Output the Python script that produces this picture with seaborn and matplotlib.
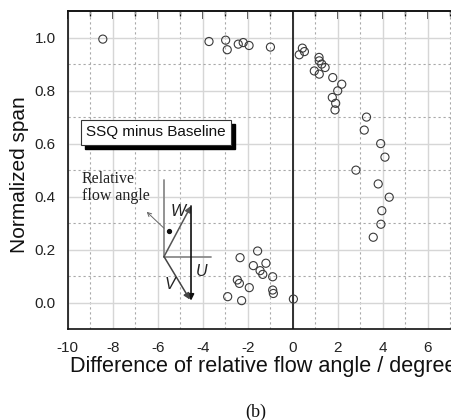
import matplotlib
matplotlib.use("Agg")
import matplotlib.pyplot as plt
import matplotlib.transforms as mtransforms
import numpy as np
import pandas as pd
import seaborn as sns

# ---- data ----
angle_diff = [-8.44, -3.72, -2.98, -2.91, -2.42, -2.20, -1.94, -0.99,
              0.43, 0.52, 0.29, 1.17, 1.18, 1.29, 1.44, 0.96, 1.18, 1.78,
              2.18, 2.00, 1.76, 1.91, 1.88, 3.28, 3.18, 3.91, 4.10, 2.81,
              3.80, 4.29, 3.96, 3.92, 3.58,
              -1.56, -2.34, -1.19, -1.75, -1.45, -1.33, -0.89, -2.46, -2.37,
              -1.93, -0.89, -0.86, -2.89, -2.27, 0.03]
span = [0.994, 0.985, 0.990, 0.954, 0.975, 0.981, 0.970, 0.964,
        0.960, 0.947, 0.935, 0.925, 0.912, 0.900, 0.887, 0.874, 0.862, 0.849,
        0.824, 0.799, 0.774, 0.752, 0.727, 0.700, 0.651, 0.600, 0.549, 0.500,
        0.448, 0.398, 0.347, 0.296, 0.247,
        0.195, 0.170, 0.149, 0.140, 0.121, 0.107, 0.098, 0.086, 0.073,
        0.057, 0.048, 0.035, 0.023, 0.008, 0.014]
x_major = [-10, -8, -6, -4, -2, 0, 2, 4, 6, 8]
x_minor = [-9, -7, -5, -3, -1, 1, 3, 5, 7]
y_major = [0.0, 0.2, 0.4, 0.6, 0.8, 1.0]
y_minor = [-0.1, 0.1, 0.3, 0.5, 0.7, 0.9]
x_label = "Difference of relative flow angle / degree"
y_label = "Normalized span"
box_label = "SSQ minus Baseline"
panel_label = "(b)"

df = pd.DataFrame({"angle": angle_diff, "span": span})

sns.set_style("white")
plt.rcParams["font.family"] = ["Liberation Sans", "DejaVu Sans"]

fig = plt.figure(figsize=(4.52, 4.20), dpi=100)
ax = fig.add_axes([0.1498, 0.216, 0.896, 0.7578])

ax.set_xlim(-10, 8)
ax.set_ylim(-0.1, 1.1)

ax.set_xticks(x_major)
ax.set_xticks(x_minor, minor=True)
ax.set_yticks(y_major)
ax.set_yticks(y_minor, minor=True)
ax.set_xticklabels([str(v) for v in x_major])
ax.set_yticklabels([f"{v:.1f}" for v in y_major])

ax.grid(True, which="major", color="#d6d6d6", linewidth=1.0, linestyle="-")
ax.grid(True, which="minor", color="#a8a8a8", linewidth=0.8, linestyle=(0, (2, 2.5)))
ax.set_axisbelow(True)

ax.axvline(0, color="#222222", linewidth=1.3, zorder=2)

sns.scatterplot(data=df, x="angle", y="span", ax=ax, s=34,
                facecolor="none", edgecolor="#3a3a3a", linewidth=0.8,
                zorder=3, legend=False)

for sp in ax.spines.values():
    sp.set_color("#111111")
    sp.set_linewidth(1.2)

ax.tick_params(axis="both", which="major", direction="out", length=5.5,
               width=1.1, color="#111111", labelsize=11, labelcolor="#222222",
               pad=3)
ax.tick_params(axis="both", which="minor", direction="out", length=3.5,
               width=1.0, color="#111111")
ax.tick_params(top=False, right=False)

sec = ax.secondary_xaxis("top")
sec.set_xticks(x_major)
sec.set_xticks(x_minor, minor=True)
sec.tick_params(which="major", direction="in", length=5.5, width=1.1,
                labeltop=False, color="#111111")
sec.tick_params(which="minor", direction="in", length=3.5, width=1.0,
                labeltop=False, color="#111111")
sec.spines["top"].set_linewidth(1.2)

ax.set_xlabel(x_label, fontsize=15.6, color="#111111", ha="left", va="center")
ax.xaxis.set_label_coords(0.006, -0.118)
ax.set_ylabel(y_label, fontsize=15, color="#111111", va="center")
ax.yaxis.set_label_coords(-0.118, 0.485)

# boxed label with drop shadow
shadow_tr = mtransforms.offset_copy(ax.transData, fig=fig, x=4, y=-4, units="dots")
ax.text(-6.08, 0.642, box_label, fontsize=11, color="black", ha="center",
        va="center", transform=shadow_tr, zorder=4,
        bbox=dict(boxstyle="square,pad=0.35", facecolor="black", edgecolor="black"))
ax.text(-6.08, 0.642, box_label, fontsize=11, color="#111111", ha="center",
        va="center", zorder=5,
        bbox=dict(boxstyle="square,pad=0.35", facecolor="white",
                  edgecolor="#333333", linewidth=0.8))

# velocity triangle sketch
ax.plot([-5.72, -5.72], [0.463, 0.174], color="#8a8a8a", linewidth=1.3, zorder=4)
ax.plot([-5.72, -3.63], [0.174, 0.174], color="#8a8a8a", linewidth=1.3, zorder=4)
arrow_kw = dict(arrowstyle="-|>", mutation_scale=9, shrinkA=0, shrinkB=0)
ax.annotate("", xy=(-4.52, 0.365), xytext=(-5.72, 0.174),
            arrowprops=dict(color="#555555", lw=1.1, **arrow_kw), zorder=5)
ax.annotate("", xy=(-4.52, 0.008), xytext=(-4.52, 0.365),
            arrowprops=dict(color="#111111", lw=1.2, **arrow_kw), zorder=5)
ax.annotate("", xy=(-4.57, 0.012), xytext=(-5.72, 0.174),
            arrowprops=dict(color="#444444", lw=1.1, **arrow_kw), zorder=5)
ax.annotate("", xy=(-6.49, 0.343), xytext=(-5.72, 0.281),
            arrowprops=dict(arrowstyle="->", color="#666666", lw=0.7,
                            mutation_scale=7, shrinkA=0, shrinkB=0), zorder=5)
ax.plot([-5.50], [0.271], marker="o", markersize=2.8, color="#111111", zorder=5)
ax.text(-5.08, 0.343, "W", fontsize=11.5, style="italic", ha="center",
        va="center", color="#222222", zorder=6)
ax.text(-4.04, 0.117, "U", fontsize=11.5, style="italic", ha="center",
        va="center", color="#222222", zorder=6)
ax.text(-5.45, 0.067, "V", fontsize=11.5, style="italic", ha="center",
        va="center", color="#222222", zorder=6)
ax.text(-9.38, 0.496, "Relative\nflow angle", fontsize=11.5,
        family=["Liberation Serif", "DejaVu Serif"], ha="left", va="top",
        linespacing=1.1, color="#222222", zorder=6)

fig.text(0.566, 0.019, panel_label, fontsize=13,
         family=["Liberation Serif", "DejaVu Serif"], ha="center", va="center",
         color="#111111")

fig.savefig("out.png", dpi=100, facecolor="white")
